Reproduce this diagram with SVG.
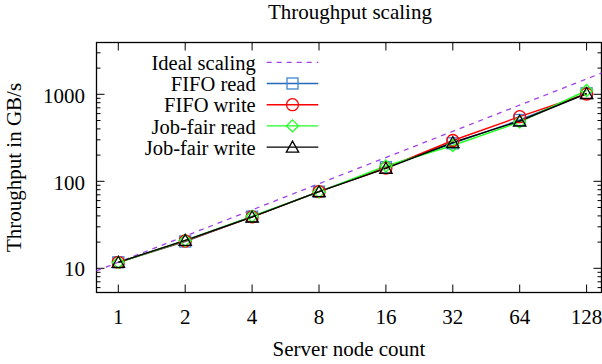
<svg xmlns="http://www.w3.org/2000/svg" width="602" height="364" viewBox="0 0 602 364">
<style>
text{font-family:"Liberation Serif","Times New Roman",serif;font-size:21px;fill:#000}
.tk{stroke:#000;stroke-width:1;fill:none}
.frame{stroke:#000;stroke-width:1.3;fill:none}
.ideal{stroke:#a040e8;stroke-width:1.3;stroke-dasharray:5,5;fill:none}
.s{fill:none;stroke-width:1.4}
.blue{stroke:#2468b8}
.red{stroke:#ff0000}
.green{stroke:#22ff22}
.black{stroke:#000}
.lg{font-size:20.5px}
</style>
<defs>
<rect id="msq" x="-5.5" y="-5.5" width="11" height="11" fill="none" stroke="#3a86cf" stroke-width="1.3"/>
<circle id="mci" r="6" fill="none" stroke="#ff0000" stroke-width="1.3"/>
<path id="mdi" d="M0,-6 L6,0 L0,6 L-6,0 Z" fill="none" stroke="#22ff22" stroke-width="1.3"/>
<path id="mtr" d="M0,-6 L6.2,5 L-6.2,5 Z" fill="none" stroke="#000" stroke-width="1.3"/>
</defs>
<text x="350" y="19" text-anchor="middle">Throughput scaling</text>
<g id="axes">
<g class="tk">
<path d="M118.3,292.5v-8M185.2,292.5v-8M252.1,292.5v-8M319,292.5v-8M385.9,292.5v-8M452.8,292.5v-8M519.7,292.5v-8M586.6,292.5v-8"/>
<path d="M118.3,42.5v8M185.2,42.5v8M252.1,42.5v8M319,42.5v8M385.9,42.5v8M452.8,42.5v8M519.7,42.5v8M586.6,42.5v8"/>
<path d="M96.5,268.3h8M96.5,181.3h8M96.5,94.3h8M601.5,268.3h-8M601.5,181.3h-8M601.5,94.3h-8"/>
<path d="M96.5,287.6h4M96.5,281.8h4M96.5,276.7h4M96.5,272.3h4M96.5,242.1h4M96.5,226.8h4M96.5,215.9h4M96.5,207.5h4M96.5,200.6h4M96.5,194.8h4M96.5,189.7h4M96.5,185.3h4M96.5,155.1h4M96.5,139.8h4M96.5,128.9h4M96.5,120.5h4M96.5,113.6h4M96.5,107.8h4M96.5,102.7h4M96.5,98.3h4M96.5,68.1h4M96.5,52.8h4"/>
<path d="M601.5,287.6h-4M601.5,281.8h-4M601.5,276.7h-4M601.5,272.3h-4M601.5,242.1h-4M601.5,226.8h-4M601.5,215.9h-4M601.5,207.5h-4M601.5,200.6h-4M601.5,194.8h-4M601.5,189.7h-4M601.5,185.3h-4M601.5,155.1h-4M601.5,139.8h-4M601.5,128.9h-4M601.5,120.5h-4M601.5,113.6h-4M601.5,107.8h-4M601.5,102.7h-4M601.5,98.3h-4M601.5,68.1h-4M601.5,52.8h-4"/>
</g>
<rect class="frame" x="96.5" y="42.5" width="505" height="250"/>
<g text-anchor="end">
<text x="85" y="103">1000</text>
<text x="85" y="189.5">100</text>
<text x="85" y="276.3">10</text>
</g>
<g text-anchor="middle">
<text x="118.3" y="324">1</text>
<text x="185.2" y="324">2</text>
<text x="252.1" y="324">4</text>
<text x="319" y="324">8</text>
<text x="385.9" y="324">16</text>
<text x="452.8" y="324">32</text>
<text x="519.7" y="324">64</text>
<text x="586.6" y="324">128</text>
</g>
<text x="349" y="356" text-anchor="middle">Server node count</text>
<text transform="translate(21,167.5) rotate(-90)" text-anchor="middle">Throughput in GB/s</text>
</g>
<g id="connectors">
<path id="ideal-line" class="ideal" d="M96.5,270.8 L601.5,73.1"/>
<path id="fifo-read-line" class="s blue" d="M118.3,262.3 L185.2,241.5 L252.1,216.7 L319,191.7 L385.9,167.3 L452.8,143.3 L519.7,120 L586.6,93.3"/>
<path id="fifo-write-line" class="s red" d="M118.3,262.3 L185.2,241 L252.1,216.9 L319,191.7 L385.9,168 L452.8,140.5 L519.7,116.7 L586.6,94"/>
<path id="jobfair-read-line" class="s green" d="M118.3,262.5 L185.2,240.5 L252.1,216.3 L319,191.9 L385.9,166 L452.8,145.5 L519.7,122 L586.6,90.5"/>
<path id="jobfair-write-line" class="s black" d="M118.3,262.3 L185.2,240.3 L252.1,217 L319,191.7 L385.9,168.3 L452.8,142.5 L519.7,121 L586.6,93.5"/>
</g>
<g id="fifo-read-points">
<use href="#msq" x="118.3" y="262.3"/><use href="#msq" x="185.2" y="241.5"/><use href="#msq" x="252.1" y="216.7"/><use href="#msq" x="319" y="191.7"/><use href="#msq" x="385.9" y="167.3"/><use href="#msq" x="452.8" y="143.3"/><use href="#msq" x="519.7" y="120"/><use href="#msq" x="586.6" y="93.3"/>
</g>
<g id="fifo-write-points">
<use href="#mci" x="118.3" y="262.3"/><use href="#mci" x="185.2" y="241"/><use href="#mci" x="252.1" y="216.9"/><use href="#mci" x="319" y="191.7"/><use href="#mci" x="385.9" y="168"/><use href="#mci" x="452.8" y="140.5"/><use href="#mci" x="519.7" y="116.7"/><use href="#mci" x="586.6" y="94"/>
</g>
<g id="jobfair-read-points">
<use href="#mdi" x="118.3" y="262.5"/><use href="#mdi" x="185.2" y="240.5"/><use href="#mdi" x="252.1" y="216.3"/><use href="#mdi" x="319" y="191.9"/><use href="#mdi" x="385.9" y="166"/><use href="#mdi" x="452.8" y="145.5"/><use href="#mdi" x="519.7" y="122"/><use href="#mdi" x="586.6" y="90.5"/>
</g>
<g id="jobfair-write-points">
<use href="#mtr" x="118.3" y="262.3"/><use href="#mtr" x="185.2" y="240.3"/><use href="#mtr" x="252.1" y="217"/><use href="#mtr" x="319" y="191.7"/><use href="#mtr" x="385.9" y="168.3"/><use href="#mtr" x="452.8" y="142.5"/><use href="#mtr" x="519.7" y="121"/><use href="#mtr" x="586.6" y="93.5"/>
</g>
<g id="legend">
<g text-anchor="end" class="lg">
<text class="lg" x="255.7" y="70">Ideal scaling</text>
<text class="lg" x="255.7" y="91.2">FIFO read</text>
<text class="lg" x="255.7" y="112.4">FIFO write</text>
<text class="lg" x="255.7" y="133.6">Job-fair read</text>
<text class="lg" x="255.7" y="154.8">Job-fair write</text>
</g>
<path class="ideal" d="M266.7,62.3 H318.3"/>
<path class="s blue" d="M266.7,83.5 H318.3"/>
<path class="s red" d="M266.7,104.7 H318.3"/>
<path class="s green" d="M266.7,125.9 H318.3"/>
<path class="s black" d="M266.7,147.1 H318.3"/>
<use href="#msq" x="292.5" y="83.5"/>
<use href="#mci" x="292.5" y="104.7"/>
<use href="#mdi" x="292.5" y="125.9"/>
<use href="#mtr" x="292.5" y="147.1"/>
</g>
</svg>
